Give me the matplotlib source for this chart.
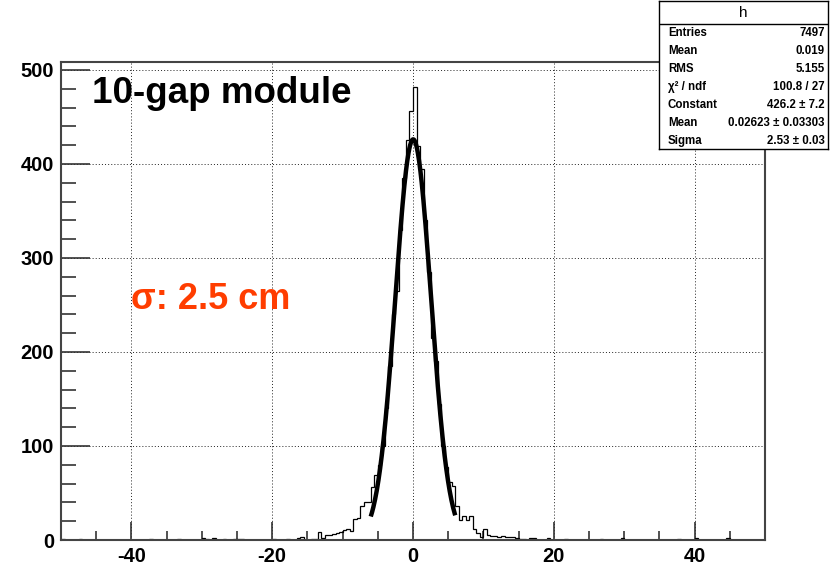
import numpy as np
import matplotlib
matplotlib.use("Agg")
import matplotlib.pyplot as plt
from matplotlib.ticker import MultipleLocator

# ---------------- data ----------------
x_min, x_max, bin_width = -50.0, 50.0, 0.5
counts = [
    1, 0, 0, 0, 0, 1, 0, 0, 0, 0, 0, 0, 0, 0, 0, 0, 0, 0, 0, 0,            # -50 .. -40.5
    0, 0, 0, 0, 0, 1, 0, 0, 0, 0, 0, 0, 0, 1, 0, 0, 0, 0, 0, 0,            # -40 .. -30.5
    2, 1, 0, 2, 0, 0, 1, 0, 0, 1, 1, 1, 0, 0, 0, 0, 0, 0, 0, 0,            # -30 .. -20.5
    1, 0, 0, 0, 1, 0, 0, 2, 3, 0, 0, 1, 1, 8, 2, 5, 5, 6, 7, 8,            # -20 .. -10.5
    11, 12, 10, 22, 23, 36, 40, 40, 56, 69,
    80, 100, 140, 185, 240, 265, 330, 385, 425, 456,                       # -10 .. -0.5
    482, 419, 395, 340, 285, 215, 190, 145, 100, 78,
    62, 57, 36, 21, 25, 21, 25, 12, 7, 3,                                  # 0 .. 9.5
    12, 5, 4, 4, 3, 4, 3, 3, 3, 2, 1, 1, 0, 2, 2, 0, 0, 0, 2, 0,           # 10 .. 19.5
    0, 0, 0, 1, 0, 0, 0, 0, 0, 0, 0, 0, 0, 1, 0, 0, 0, 0, 0, 2,            # 20 .. 29.5
    0, 0, 0, 0, 0, 0, 0, 0, 0, 0, 0, 0, 0, 0, 0, 1, 0, 0, 0, 0,            # 30 .. 39.5
    2, 0, 0, 0, 0, 0, 0, 0, 0, 2, 0, 0, 0, 0, 0, 0, 0, 0, 0, 0,            # 40 .. 49.5
]
# Gaussian fit parameters and range
fit_constant, fit_mean, fit_sigma = 426.2, 0.02623, 2.53
fit_range = (-6.0, 6.0)

x_ticks = [-40, -20, 0, 20, 40]
y_ticks = [0, 100, 200, 300, 400, 500]
y_top = 508.5

stats_title = "h"
stats_labels = ["Entries", "Mean", "RMS", "\u03c7\u00b2 / ndf", "Constant", "Mean", "Sigma"]
stats_values = ["7497", "0.019", "5.155", "100.8 / 27", "426.2 \u00b1 7.2",
                "0.02623 \u00b1 0.03303", "2.53 \u00b1 0.03"]

title_text = "10-gap module"
sigma_text = "\u03c3: 2.5 cm"

# ---------------- figure ----------------
plt.rcParams['font.family'] = ['Liberation Sans', 'DejaVu Sans']
plt.rcParams['axes.unicode_minus'] = False
W, H = 831, 565
fig = plt.figure(figsize=(W / 100, H / 100), dpi=100)

L, R, T, B = 61, 765, 62, 540
ax = fig.add_axes([L / W, 1 - B / H, (R - L) / W, (B - T) / H])

edges = np.arange(len(counts) + 1) * bin_width + x_min
ax.stairs(counts, edges, color='black', linewidth=0.9, baseline=0)

xf = np.linspace(fit_range[0], fit_range[1], 200)
yf = fit_constant * np.exp(-0.5 * ((xf - fit_mean) / fit_sigma) ** 2)
ax.plot(xf, yf, color='black', linewidth=3.2, solid_capstyle='butt', zorder=3)

ax.set_xlim(x_min, x_max)
ax.set_ylim(0, y_top)
ax.set_xticks(x_ticks)
ax.set_yticks(y_ticks)
ax.xaxis.set_minor_locator(MultipleLocator(5))
ax.yaxis.set_minor_locator(MultipleLocator(20))

ax.tick_params(axis='both', which='both', direction='in', top=False, right=False,
               color='#333333', width=1.2)
ax.tick_params(axis='x', which='major', length=13, pad=5)
ax.tick_params(axis='x', which='minor', length=6.5)
ax.tick_params(axis='y', which='major', length=21, pad=5)
ax.tick_params(axis='y', which='minor', length=10.5)
for lab in ax.get_xticklabels() + ax.get_yticklabels():
    lab.set_fontsize(14.5)
    lab.set_fontweight('bold')

ax.grid(True, which='major', color='#222222', linewidth=0.7, linestyle=(0, (1, 2.2)))
ax.set_axisbelow(True)
for s in ax.spines.values():
    s.set_color('#444444')
    s.set_linewidth(1.5)

ax.text((92 - L) / (R - L), (B - 103) / (B - T), title_text, transform=ax.transAxes,
        fontsize=26.5, fontweight='bold', color='black', ha='left', va='baseline')
ax.text((131 - L) / (R - L), (B - 309) / (B - T), sigma_text, transform=ax.transAxes,
        fontsize=26, fontweight='bold', color='#ff3d00', ha='left', va='baseline')

# ---------------- stats box ----------------
bx0, bx1, by0, by1 = 659, 828, 1, 149
sax = fig.add_axes([bx0 / W, 1 - by1 / H, (bx1 - bx0) / W, (by1 - by0) / H])
sax.set_xlim(bx0, bx1)
sax.set_ylim(by1, by0)
sax.set_xticks([])
sax.set_yticks([])
sax.set_facecolor('white')
for s in sax.spines.values():
    s.set_color('black')
    s.set_linewidth(1.0)
sax.axhline(24, color='black', linewidth=1.0)
sax.text((bx0 + bx1) / 2, 13, stats_title, fontsize=11, ha='center', va='center')
row_y = [33, 51, 69, 87, 105, 123, 141]
for yy, lab, val in zip(row_y, stats_labels, stats_values):
    sax.text(668, yy, lab, fontsize=8.3, fontweight='bold', ha='left', va='center')
    sax.text(825, yy, val, fontsize=8.3, fontweight='bold', ha='right', va='center')

fig.savefig("out.png", dpi=100)
